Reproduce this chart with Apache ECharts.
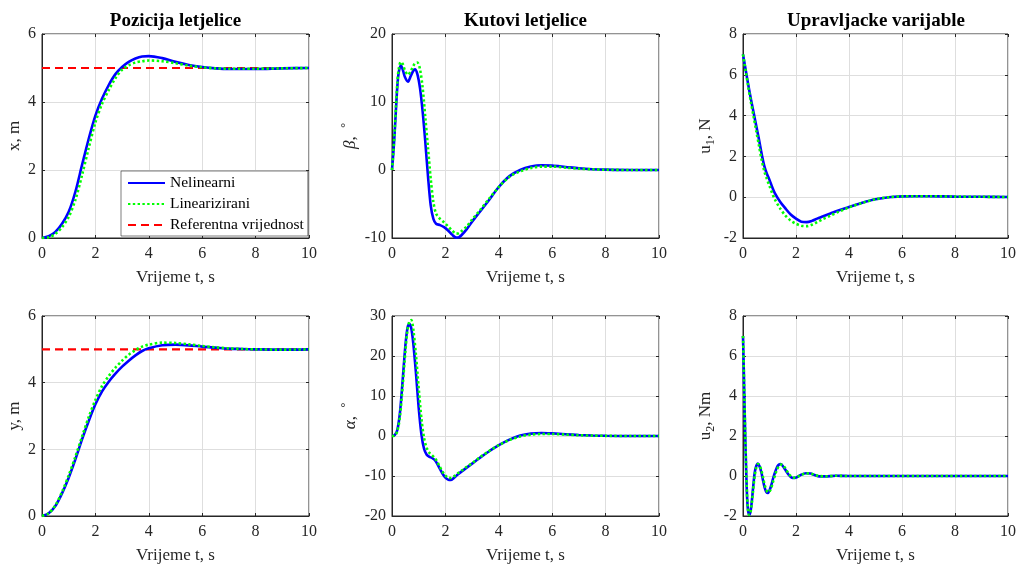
<!DOCTYPE html>
<html><head><meta charset="utf-8">
<script src="https://cdn.jsdelivr.net/npm/echarts@6.0.0/dist/echarts.min.js"></script>
<style>html,body{margin:0;padding:0;background:#fff}#c{width:1019px;height:565px}</style>
</head><body><div id="c"></div>
<script>
// ---------- data ----------
const titles = ['Pozicija letjelice', 'Kutovi letjelice', 'Upravljacke varijable'];
const xAxisName = 'Vrijeme t, s';
const seriesNames = ['Nelinearni', 'Linearizirani', 'Referentna vrijednost'];
const xTicks = [0, 10, 2];            // min, max, interval for all time axes
const yRangeX = [0, 6, 2];
const yRangeBeta = [-10, 20, 10];
const yRangeU1 = [-2, 8, 2];
const yRangeY = [0, 6, 2];
const yRangeAlpha = [-20, 30, 10];
const yRangeU2 = [-2, 8, 2];

const tRef = [0, 10];
const posRef = [5, 5];

const tPos = [0,0.25,0.5,0.75,1,1.25,1.5,1.75,2,2.25,2.5,2.75,3,3.25,3.5,3.75,4,4.5,5,5.5,6,6.5,7,7.5,8,9,10];
const xNl  = [0,0.05,0.18,0.42,0.77,1.36,2.15,2.92,3.6,4.1,4.5,4.82,5.03,5.18,5.28,5.34,5.35,5.29,5.18,5.09,5.03,4.99,4.97,4.97,4.97,4.99,5.0];
const xLin = [0,0.02,0.12,0.32,0.62,1.12,1.85,2.65,3.4,3.95,4.35,4.7,4.95,5.08,5.16,5.2,5.22,5.2,5.14,5.07,5.02,4.99,4.98,4.98,4.98,4.99,5.0];
const yNl  = [0,0.08,0.3,0.68,1.15,1.7,2.3,2.85,3.35,3.74,4.03,4.27,4.48,4.66,4.82,4.95,5.03,5.12,5.14,5.12,5.08,5.05,5.02,5.01,5.0,4.99,5.0];
const yLin = [0,0.08,0.32,0.72,1.22,1.78,2.38,2.97,3.48,3.9,4.2,4.45,4.66,4.84,4.98,5.08,5.14,5.2,5.19,5.15,5.1,5.06,5.03,5.01,5.0,4.99,5.0];

const tBeta = [0,0.05,0.1,0.15,0.2,0.25,0.33,0.4,0.48,0.6,0.7,0.8,0.86,0.95,1.05,1.15,1.25,1.35,1.45,1.55,1.65,1.8,1.95,2.1,2.25,2.4,2.5,2.6,2.8,3.0,3.3,3.6,4.0,4.4,4.8,5.2,5.6,6.0,6.5,7,7.5,8,9,10];
const betaNl  = [0,2.5,5.5,9,12.3,14.3,15.4,14.8,13.7,13.0,13.8,14.6,14.8,14.1,12.0,8.5,4.0,-1.0,-5.2,-7.2,-7.9,-8.1,-8.4,-8.9,-9.5,-9.95,-9.9,-9.6,-8.7,-7.6,-6.1,-4.6,-2.5,-0.9,0.0,0.5,0.7,0.65,0.45,0.25,0.12,0.05,0,0];
const betaLin = [0,2.5,5.8,9.5,12.8,14.8,15.9,15.6,14.7,14.0,14.5,15.3,15.7,15.8,14.8,12.0,7.6,3.2,-1.3,-4.7,-6.4,-7.2,-7.7,-8.3,-8.9,-9.35,-9.3,-9.0,-8.3,-7.3,-5.9,-4.4,-2.5,-1.0,-0.2,0.3,0.5,0.5,0.35,0.2,0.1,0.04,0,0];

const tAlpha = [0,0.1,0.2,0.3,0.4,0.5,0.58,0.65,0.72,0.8,0.9,1.0,1.1,1.2,1.3,1.4,1.5,1.6,1.7,1.8,1.9,2.0,2.1,2.2,2.3,2.45,2.6,2.8,3.0,3.3,3.6,4.0,4.4,4.8,5.2,5.6,6.0,6.5,7,7.5,8,9,10];
const alphaNl  = [0,0.2,1.5,6.0,14.0,22.5,27.0,28.0,27.0,23.0,15.5,7.0,0.5,-3.2,-4.7,-5.2,-5.5,-6.0,-7.0,-8.3,-9.5,-10.4,-10.9,-11.0,-10.6,-9.7,-8.9,-7.9,-6.9,-5.4,-4.0,-2.3,-0.9,0.1,0.6,0.75,0.65,0.45,0.25,0.12,0.05,0,0];
const alphaLin = [0,0.1,1.2,5.0,12.5,21.0,26.5,28.6,29.0,26.5,20.0,12.0,4.5,-0.5,-3.0,-4.2,-4.8,-5.5,-6.5,-7.8,-9.0,-9.9,-10.4,-10.5,-10.2,-9.4,-8.7,-7.7,-6.8,-5.3,-3.9,-2.3,-1.0,-0.1,0.35,0.5,0.5,0.35,0.2,0.1,0.04,0,0];

const tU1 = [0,0.1,0.2,0.3,0.4,0.5,0.6,0.7,0.8,0.9,1.0,1.1,1.2,1.4,1.6,1.8,2.0,2.2,2.4,2.6,2.8,3.0,3.3,3.6,4.0,4.5,5.0,5.5,6.0,6.5,7,8,9,10];
const u1Nl  = [7.0,6.25,5.5,4.8,4.15,3.5,2.85,2.15,1.55,1.15,0.85,0.5,0.2,-0.22,-0.55,-0.85,-1.05,-1.2,-1.22,-1.16,-1.05,-0.95,-0.8,-0.65,-0.48,-0.27,-0.1,0.0,0.04,0.05,0.05,0.03,0.02,0.01];
const u1Lin = [7.0,6.2,5.4,4.65,3.95,3.25,2.55,1.85,1.3,0.9,0.55,0.2,-0.1,-0.55,-0.9,-1.15,-1.3,-1.4,-1.42,-1.35,-1.22,-1.08,-0.9,-0.72,-0.5,-0.28,-0.1,0.0,0.04,0.05,0.05,0.03,0.02,0.01];

const tU2 = [0,0.03,0.06,0.1,0.14,0.18,0.23,0.28,0.33,0.38,0.44,0.5,0.56,0.62,0.69,0.76,0.82,0.88,0.94,1.0,1.07,1.13,1.2,1.27,1.34,1.42,1.5,1.58,1.65,1.73,1.8,1.88,1.95,2.05,2.2,2.38,2.55,2.7,2.88,3.1,3.5,4,5,10];
const u2Nl  = [7.0,5.3,3.4,1.2,-0.6,-1.6,-1.95,-1.8,-1.3,-0.6,0.15,0.5,0.62,0.5,0.2,-0.25,-0.6,-0.8,-0.85,-0.72,-0.45,-0.15,0.15,0.4,0.55,0.6,0.5,0.35,0.2,0.05,-0.05,-0.1,-0.1,-0.05,0.07,0.14,0.12,0.05,-0.02,-0.02,0.01,0,0,0];
const u2Lin = [7.0,5.4,3.5,1.3,-0.5,-1.55,-1.95,-1.85,-1.4,-0.75,0.0,0.42,0.6,0.55,0.3,-0.1,-0.45,-0.7,-0.82,-0.78,-0.58,-0.3,0.0,0.28,0.46,0.57,0.55,0.42,0.27,0.1,0.0,-0.07,-0.08,-0.05,0.05,0.13,0.12,0.06,0.0,-0.02,0.01,0,0,0];

// ---------- chart ----------
const FONT = '"Liberation Serif","Times New Roman",serif';
const TXT = '#262626';
const zip = (t, v) => t.map((x, i) => [x, v[i]]);

const grids = [
  {left: 42, top: 34, width: 267, height: 204},
  {left: 392, top: 34, width: 267, height: 204},
  {left: 743, top: 34, width: 266, height: 204},
  {left: 42, top: 316, width: 267, height: 202},
  {left: 392, top: 316, width: 267, height: 202},
  {left: 743, top: 316, width: 266, height: 202}
].map(g => Object.assign(g, {show: true, borderColor: TXT, borderWidth: 1, backgroundColor: 'transparent'}));

const yRanges = [yRangeX, yRangeBeta, yRangeU1, yRangeY, yRangeAlpha, yRangeU2];
const richBase = {
  b: {fontSize: 17, fontFamily: FONT, color: TXT, lineHeight: 22, verticalAlign: 'middle'},
  g: {fontSize: 17, fontFamily: FONT, color: TXT, fontStyle: 'italic', lineHeight: 22, verticalAlign: 'middle'},
  s: {fontSize: 12, fontFamily: FONT, color: TXT, lineHeight: 12, verticalAlign: 'bottom'},
  p: {fontSize: 12, fontFamily: FONT, color: TXT, lineHeight: 12, verticalAlign: 'top'}
};
const yNames = ['{b|x, m}', '{g|β}{b|,  }{p|°}', '{b|u}{s|1}{b|, N}', '{b|y, m}', '{g|α}{b|,  }{p|°}', '{b|u}{s|2}{b|, Nm}'];
const yGaps = [16, 30, 26, 16, 30, 26];

const xAxes = [], yAxes = [];
for (let i = 0; i < 6; i++) {
  xAxes.push({
    gridIndex: i, type: 'value', position: 'bottom', min: xTicks[0], max: xTicks[1], interval: xTicks[2],
    axisLine: {show: true, onZero: false, lineStyle: {color: TXT, width: 1}},
    axisTick: {show: true, inside: true, length: 3, lineStyle: {color: TXT}},
    axisLabel: {margin: 8, fontSize: 16, fontFamily: FONT, color: TXT},
    splitLine: {show: true, lineStyle: {color: '#dedede', width: 1}},
    name: xAxisName, nameLocation: 'middle', nameGap: 31,
    nameTextStyle: {fontSize: 17, fontFamily: FONT, color: TXT}
  });
  const r = yRanges[i];
  yAxes.push({
    gridIndex: i, type: 'value', position: 'left', min: r[0], max: r[1], interval: r[2],
    axisLine: {show: true, onZero: false, lineStyle: {color: TXT, width: 1}},
    axisTick: {show: true, inside: true, length: 3, lineStyle: {color: TXT}},
    axisLabel: {margin: 6, fontSize: 16, fontFamily: FONT, color: TXT},
    splitLine: {show: true, lineStyle: {color: '#dedede', width: 1}},
    name: yNames[i], nameLocation: 'middle', nameGap: yGaps[i], nameRotate: 90,
    nameTextStyle: {rich: richBase}
  });
}
for (let i = 0; i < 6; i++) {
  xAxes.push({
    gridIndex: i, type: 'value', position: 'top', min: xTicks[0], max: xTicks[1], interval: xTicks[2],
    axisLine: {show: false, onZero: false}, axisLabel: {show: false}, splitLine: {show: false},
    axisTick: {show: true, inside: true, length: 3, lineStyle: {color: TXT}}
  });
  const r = yRanges[i];
  yAxes.push({
    gridIndex: i, type: 'value', position: 'right', min: r[0], max: r[1], interval: r[2],
    axisLine: {show: false, onZero: false}, axisLabel: {show: false}, splitLine: {show: false},
    axisTick: {show: true, inside: true, length: 3, lineStyle: {color: TXT}}
  });
}

const blue = '#0000ff', green = '#00ff00', red = '#ff0000';
function mk(name, idx, data, kind) {
  const ls = kind === 'nl' ? {color: blue, width: 2.6}
           : kind === 'lin' ? {color: green, width: 2.6, type: [2.4, 2.4], cap: 'butt'}
           : {color: red, width: 2.2, type: [8, 5], cap: 'butt'};
  return {
    name, type: 'line', xAxisIndex: idx, yAxisIndex: idx, data,
    symbol: 'none', smooth: kind === 'ref' ? false : 0.3,
    color: ls.color, lineStyle: ls, clip: true, silent: true
  };
}

const series = [
  mk(seriesNames[2], 0, zip(tRef, posRef), 'ref'),
  mk(seriesNames[0], 0, zip(tPos, xNl), 'nl'),
  mk(seriesNames[1], 0, zip(tPos, xLin), 'lin'),
  mk(seriesNames[0], 1, zip(tBeta, betaNl), 'nl'),
  mk(seriesNames[1], 1, zip(tBeta, betaLin), 'lin'),
  mk(seriesNames[0], 2, zip(tU1, u1Nl), 'nl'),
  mk(seriesNames[1], 2, zip(tU1, u1Lin), 'lin'),
  mk(seriesNames[2], 3, zip(tRef, posRef), 'ref'),
  mk(seriesNames[0], 3, zip(tPos, yNl), 'nl'),
  mk(seriesNames[1], 3, zip(tPos, yLin), 'lin'),
  mk(seriesNames[0], 4, zip(tAlpha, alphaNl), 'nl'),
  mk(seriesNames[1], 4, zip(tAlpha, alphaLin), 'lin'),
  mk(seriesNames[0], 5, zip(tU2, u2Nl), 'nl'),
  mk(seriesNames[1], 5, zip(tU2, u2Lin), 'lin')
];

const titleCenters = [175.5, 525.5, 876];
const option = {
  animation: false,
  backgroundColor: '#ffffff',
  title: titles.map((t, i) => ({
    text: t, left: titleCenters[i], top: 12, textAlign: 'center', padding: 0,
    textStyle: {fontFamily: FONT, fontSize: 19, fontWeight: 'bold', color: '#000'}
  })),
  legend: {
    data: seriesNames, orient: 'vertical', left: 121, top: 171,
    itemWidth: 37, itemHeight: 14, itemGap: 5,
    padding: [4, 4, 3, 6],
    backgroundColor: '#ffffff', borderColor: TXT, borderWidth: 0.6,
    itemStyle: {opacity: 0},
    textStyle: {fontFamily: FONT, fontSize: 15.5, color: '#000'},
    selectedMode: false
  },
  grid: grids,
  xAxis: xAxes,
  yAxis: yAxes,
  series
};
const chart = echarts.init(document.getElementById('c'), null, {renderer: 'canvas'});
chart.setOption(option);
</script></body></html>
